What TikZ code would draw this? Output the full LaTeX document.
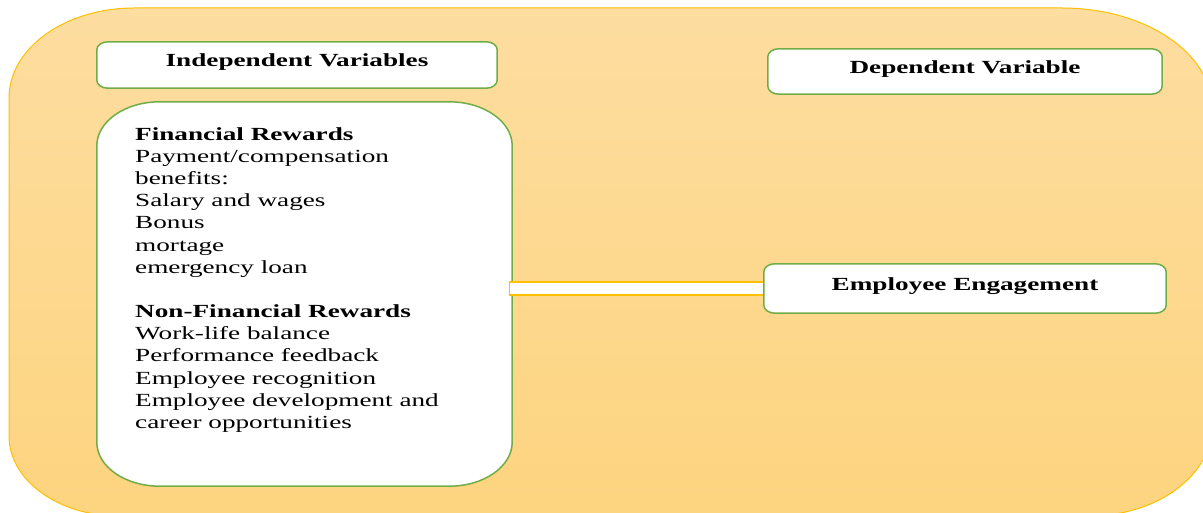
\documentclass[tikz,border=0pt]{standalone}
\usepackage{fontspec}
\setmainfont{Liberation Serif}[FakeStretch=1.47]
\usetikzlibrary{backgrounds}
\definecolor{frameGreen}{HTML}{70AD47}
\definecolor{gold}{HTML}{FFC000}
\definecolor{outerTop}{HTML}{FDDDA0}
\definecolor{outerBot}{HTML}{FDD47F}
\newcommand\eframe[4]{%
  \draw[#1] ([xshift=#3]#2.north west) -- ([xshift=-#3]#2.north east)
    arc[start angle=90,end angle=0,x radius=#3,y radius=#4]
    -- ([yshift=#4]#2.south east)
    arc[start angle=0,end angle=-90,x radius=#3,y radius=#4]
    -- ([xshift=#3]#2.south west)
    arc[start angle=270,end angle=180,x radius=#3,y radius=#4]
    -- ([yshift=-#4]#2.north west)
    arc[start angle=180,end angle=90,x radius=#3,y radius=#4] -- cycle;}
\newcommand\outerpath{(134,504) -- (1062,504)
    arc[start angle=90,end angle=0,x radius=150pt,y radius=100pt]
    -- (1212,86)
    arc[start angle=0,end angle=-90,x radius=123pt,y radius=90pt]
    -- (119,-4)
    arc[start angle=270,end angle=180,x radius=110pt,y radius=80pt]
    -- (9,414)
    arc[start angle=180,end angle=90,x radius=125pt,y radius=90pt] -- cycle}
\tikzset{
  headbox/.style={inner sep=0pt, text height=14pt, text depth=10pt,
    font=\fontsize{18.5}{22.2}\selectfont\bfseries},
  framebox/.style={draw=frameGreen, fill=white, line width=1.5pt},
  bodytext/.style={inner sep=0pt, align=left, anchor=north west,
    font=\fontsize{18.5}{22.17}\selectfont},
  linkbar/.style={draw=gold, fill=white, line width=1.3pt}
}
\begin{document}
\begin{tikzpicture}[x=1pt,y=1pt]
\useasboundingbox (0,0) rectangle (1203,512);
\node[headbox, minimum width=400pt, minimum height=46pt] (IV) at (297,447) {Independent Variables};
\node[headbox, minimum width=394pt, minimum height=45pt] (DV) at (965,440.5) {Dependent Variable};
\node[headbox, minimum width=402pt, minimum height=49pt] (EE) at (965,223.5) {Employee Engagement};
\node[inner sep=0pt, minimum width=415pt, minimum height=384pt] (BIG) at (304.5,218) {};
\node[bodytext] (BIGT) at (135,384.8) {\textbf{Financial Rewards}\\
Payment/compensation\\
benefits:\\
Salary and wages\\
Bonus\\
mortage\\
emergency loan\\[22.17pt]
\textbf{Non-Financial Rewards}\\
Work-life balance\\
Performance feedback\\
Employee recognition\\
Employee development and\\
career opportunities};
\coordinate (cL) at (BIG.east |- EE.west);
\begin{scope}[on background layer]
  \fill[outerBot] \outerpath;
  \shade[top color=outerTop, bottom color=outerBot] \outerpath;
  \draw[gold, line width=1pt] \outerpath;
  \eframe{framebox}{IV}{11pt}{8pt}
  \eframe{framebox}{DV}{11pt}{8pt}
  \eframe{framebox}{BIG}{63pt}{44pt}
  \draw[linkbar] ([shift={(-3pt,6.5pt)}]cL) rectangle ([yshift=-6.5pt]EE.west);
  \eframe{framebox}{EE}{11pt}{8pt}
\end{scope}
\end{tikzpicture}
\end{document}
